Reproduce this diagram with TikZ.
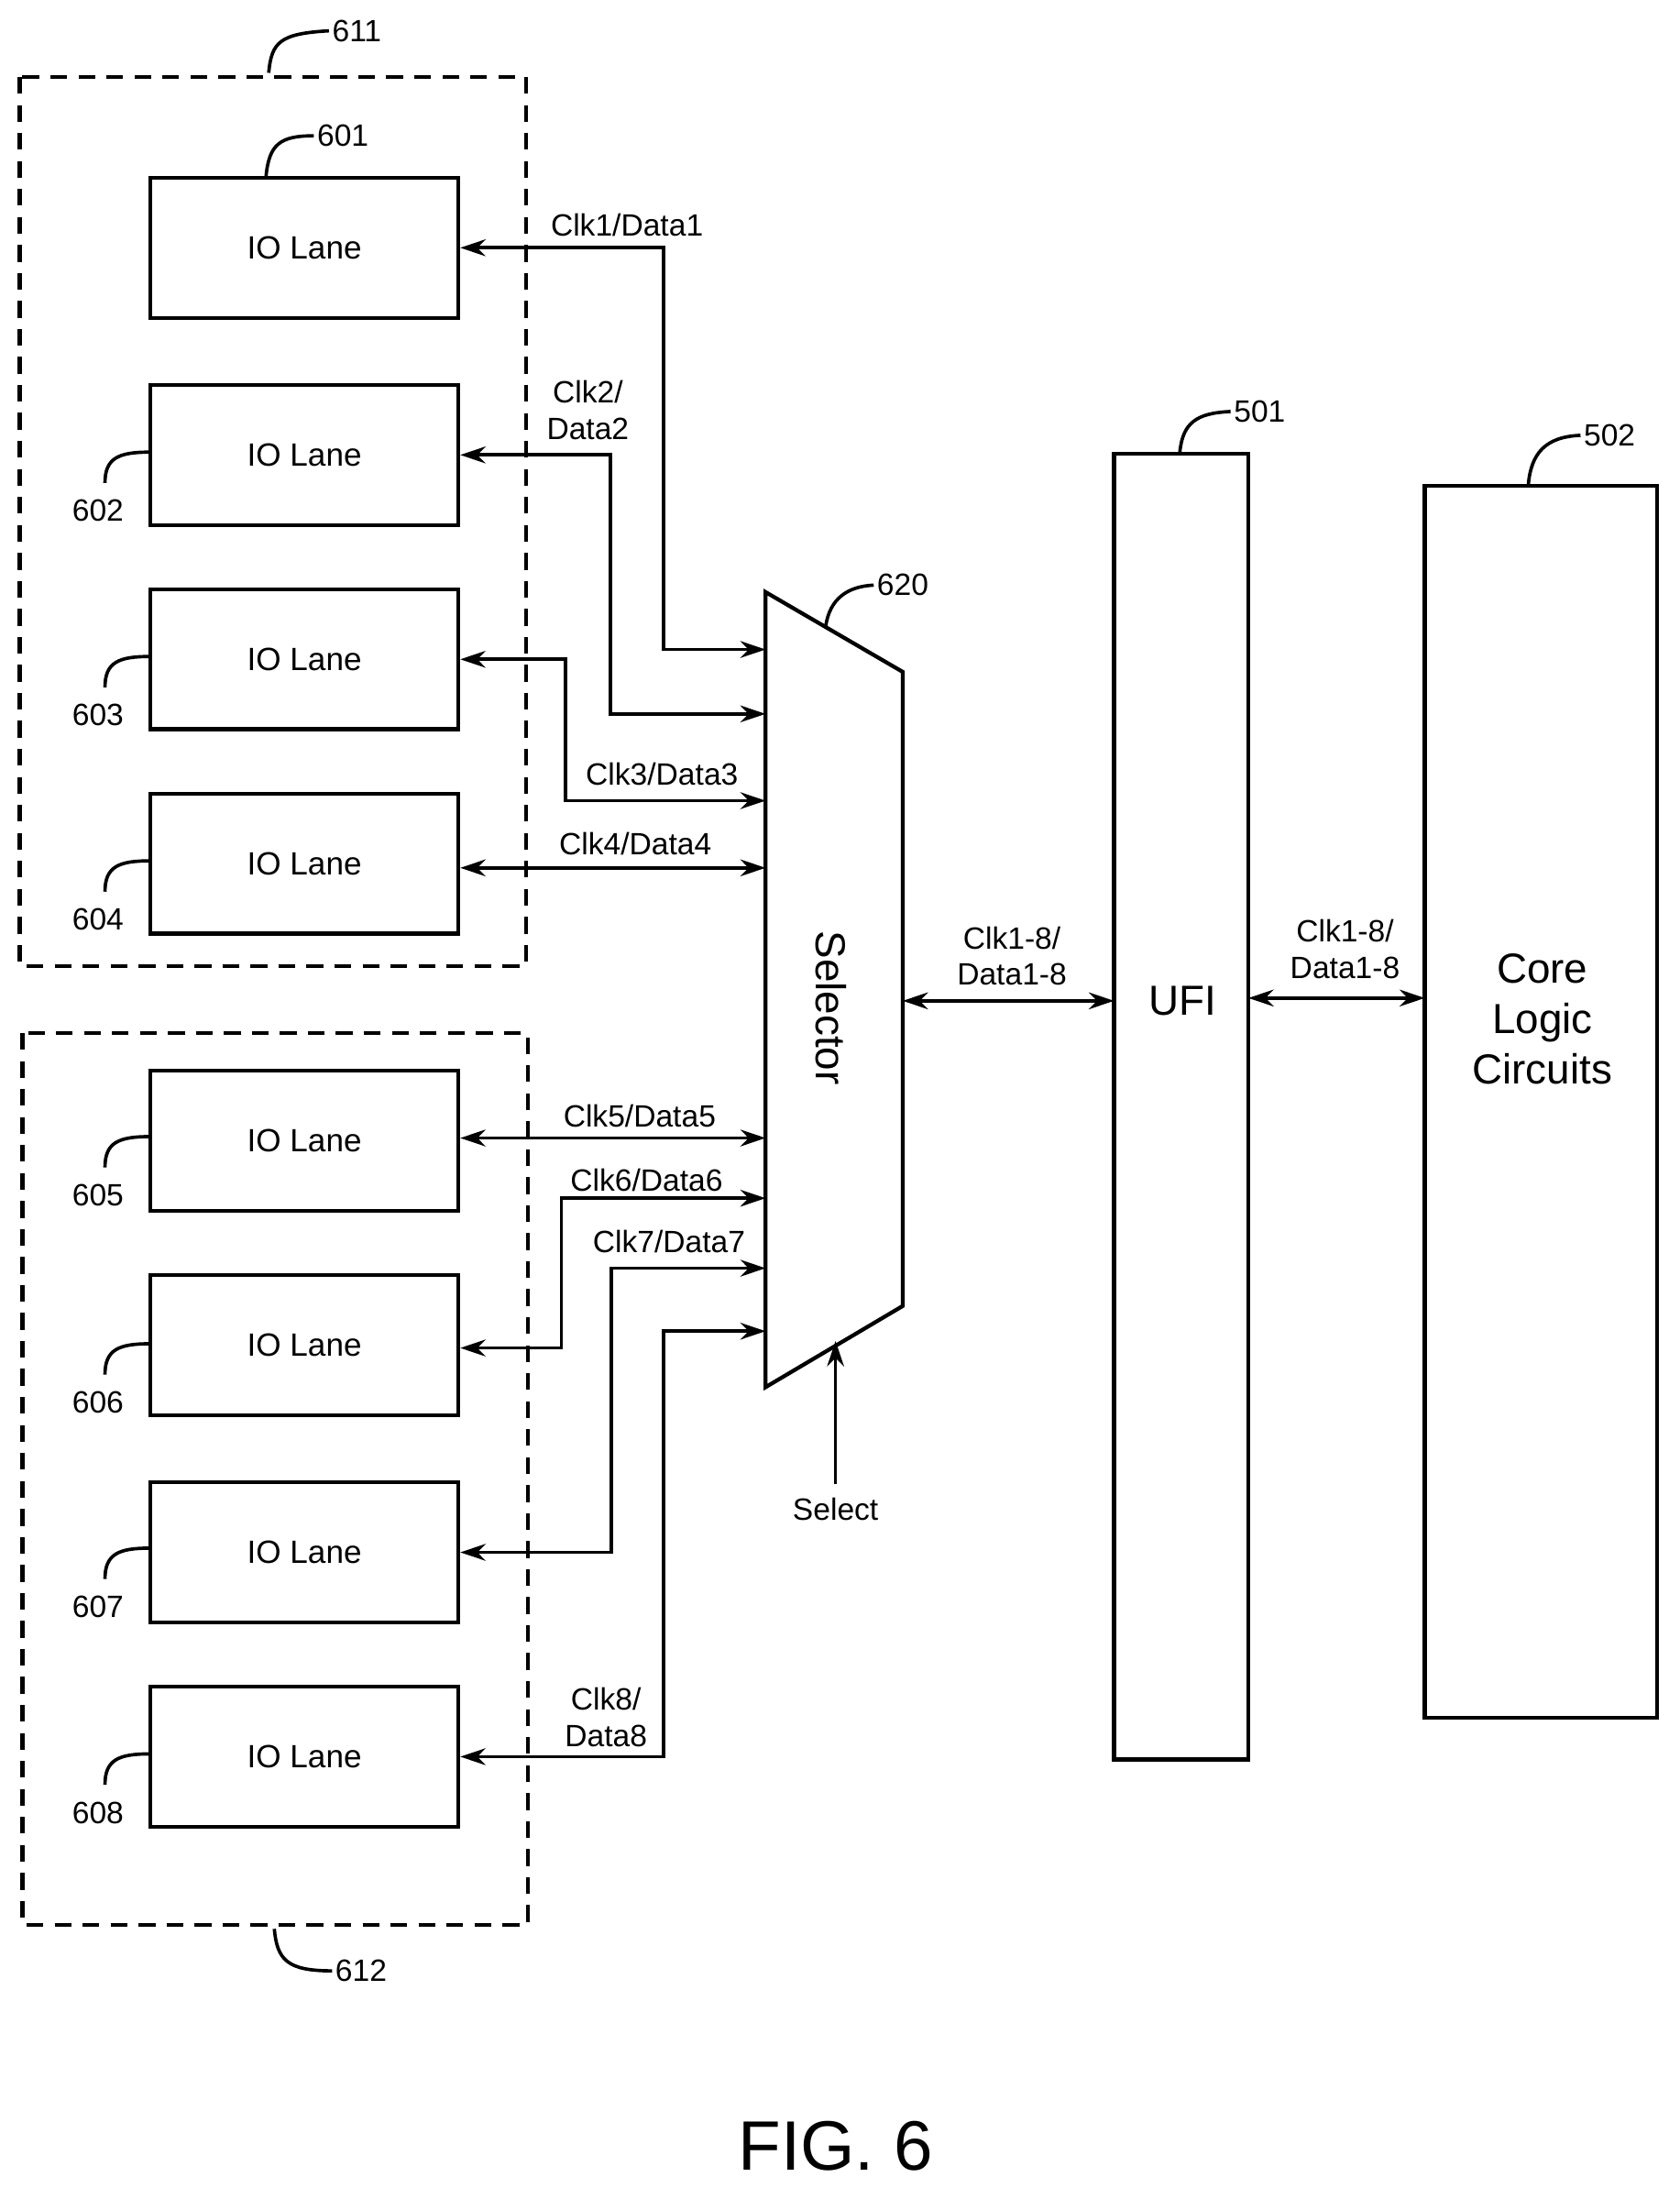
\documentclass[tikz,border=0pt]{standalone}
\usepackage{fontspec}
\setmainfont{Liberation Sans}
\usetikzlibrary{arrows.meta}
\begin{document}
\begin{tikzpicture}[x=0.5pt,y=-0.5pt,
  box/.style={draw,line width=1.4pt,minimum width=110pt,minimum height=50pt,inner sep=0pt,font=\fontsize{11.5}{13}\selectfont},
  grp/.style={draw,line width=1.4pt,dash pattern=on 6pt off 4pt},
  conn/.style={line width=1.2pt,{Stealth[length=9pt,width=6pt]}-{Stealth[length=9pt,width=6pt]}},
  arr/.style={line width=1.2pt,-{Stealth[length=9pt,width=6pt]}},
  lbl/.style={font=\fontsize{11}{13}\selectfont,align=center,inner sep=1pt},
  ref/.style={font=\fontsize{11}{13}\selectfont,inner sep=1pt},
  lead/.style={line width=1.2pt}]
\useasboundingbox (0,0) rectangle (1200,1571);
\draw[grp] (14,55) rectangle (376,690);
\draw[grp] (16,738) rectangle (377,1375);
\node[ref] (t611) at (255,22) {611};
\draw[lead] (192,52) .. controls (194,30) and (200,24) .. (t611.west);
\node[ref] (t612) at (258,1408) {612};
\draw[lead] (196,1378) .. controls (198,1400) and (205,1408) .. (t612.west);
\foreach \n/\y in {601/177,602/325,603/471,604/617,605/815,606/961,607/1109,608/1255}{
  \node[box] (L\n) at (217.5,\y) {IO Lane};}
\node[ref] (t601) at (245,97) {601};
\draw[lead] (190,127) .. controls (192,103) and (200,97) .. (t601.west);
\foreach \n/\y in {602/365,603/511,604/657,605/854,606/1002,607/1148,608/1295}{
  \node[ref] (t\n) at (70,\y) {\n};
  \draw[lead] (107,\y-42) .. controls (85,\y-42) and (75,\y-38) .. (75,\y-20);}
% selector
\draw[line width=1.4pt] (547,423) -- (645,480) -- (645,933) -- (547,991) -- cycle;
\coordinate (selL) at (547,715);
\node[rotate=-90,font=\fontsize{15}{17}\selectfont] (sel) at (594,720) {Selector};
\node[ref] (t620) at (645,418) {620};
\draw[lead] (590,447) .. controls (593,428) and (605,419) .. (t620.west);
\coordinate (selb) at (597,958);
\coordinate (sels) at (597,1060);
\draw[arr] (sels) -- (selb);
\node[lbl] (selt) at (597,1078) {Select};
% connections
\draw[conn] (L601.east|-0,177) -| (474,464) -- (547,464);
\node[lbl] at (448,161) {Clk1/Data1};
\draw[conn] (L602.east|-0,325) -| (436,510) -- (547,510);
\node[lbl] at (420,293) {Clk2/\\Data2};
\draw[conn] (L603.east|-0,471) -| (404,572) -- (547,572);
\node[lbl] at (473,553) {Clk3/Data3};
\draw[conn] (L604.east|-0,620) -- (547,620);
\node[lbl] at (454,603) {Clk4/Data4};
\draw[conn] (L605.east|-0,813) -- (547,813);
\node[lbl] at (457,797) {Clk5/Data5};
\draw[conn] (L606.east|-0,963) -| (401,856) -- (547,856);
\node[lbl] at (462,843) {Clk6/Data6};
\draw[conn] (L607.east|-0,1109) -| (437,906) -- (547,906);
\node[lbl] at (478,887) {Clk7/Data7};
\draw[conn] (L608.east|-0,1255) -| (474,951) -- (547,951);
\node[lbl] at (433,1227) {Clk8/\\Data8};
% UFI and core
\node[draw,line width=1.4pt,minimum width=48pt,minimum height=466.5pt,inner sep=0pt,font=\fontsize{15}{17}\selectfont] (ufi) at (844,790.5) {};
\node[font=\fontsize{15}{17}\selectfont] at (845,715) {UFI};
\node[draw,line width=1.4pt,minimum width=83pt,minimum height=440pt,inner sep=0pt] (core) at (1101,787) {};
\node[font=\fontsize{15}{18}\selectfont,align=center] at (1102,728) {Core\\Logic\\Circuits};
\node[ref] (t501) at (900,294) {501};
\draw[lead] (843,323) .. controls (845,302) and (855,295) .. (t501.west);
\node[ref] (t502) at (1150,311) {502};
\draw[lead] (1092,346) .. controls (1094,324) and (1104,312) .. (t502.west);
\draw[conn] (645,715) -- (796,715);
\node[lbl] at (723,683) {Clk1-8/\\Data1-8};
\draw[conn] (892,713) -- (1018,713);
\node[lbl] at (961,678) {Clk1-8/\\Data1-8};
\node[font=\fontsize{25}{28}\selectfont] at (597,1533) {FIG. 6};
\end{tikzpicture}
\end{document}
